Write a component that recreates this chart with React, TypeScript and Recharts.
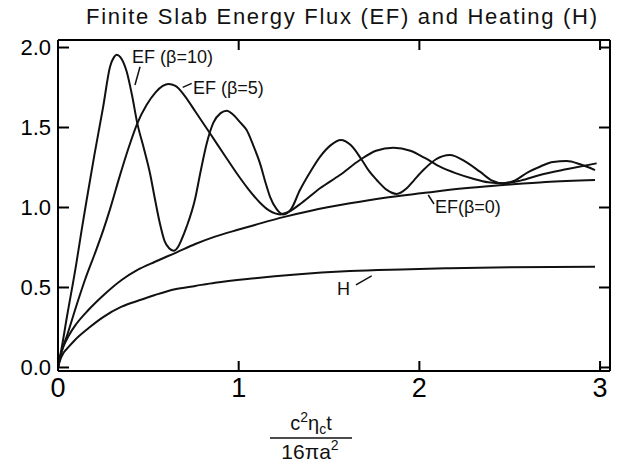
import React from 'react';
import { LineChart, Line, XAxis, YAxis, ReferenceLine, ReferenceDot } from 'recharts';

// EF(beta=10)
const beta10X = [0, 0.02, 0.05, 0.1, 0.131, 0.159, 0.2, 0.25, 0.288, 0.31, 0.325, 0.345, 0.38, 0.41, 0.439, 0.475, 0.509, 0.537, 0.564, 0.59, 0.615, 0.64, 0.665, 0.684, 0.712, 0.758, 0.79, 0.823, 0.86, 0.9, 0.934, 0.97, 1.01, 1.044, 1.08, 1.118, 1.15, 1.173, 1.21, 1.247, 1.29, 1.339, 1.4, 1.45, 1.51, 1.565, 1.62, 1.68, 1.72, 1.764, 1.82, 1.874, 1.93, 1.97, 2.022, 2.09, 2.169, 2.25, 2.335, 2.4, 2.464, 2.53, 2.6, 2.667, 2.74, 2.815, 2.89, 2.972];
const beta10Y = [0, 0.12, 0.32, 0.64, 0.86, 1.05, 1.32, 1.63, 1.88, 1.94, 1.955, 1.94, 1.85, 1.7, 1.526, 1.37, 1.214, 1.05, 0.9, 0.79, 0.745, 0.73, 0.755, 0.8, 0.88, 1.05, 1.23, 1.4, 1.53, 1.59, 1.605, 1.58, 1.53, 1.484, 1.39, 1.276, 1.15, 1.068, 0.99, 0.957, 0.99, 1.109, 1.23, 1.317, 1.39, 1.422, 1.39, 1.3, 1.23, 1.172, 1.11, 1.085, 1.12, 1.17, 1.234, 1.3, 1.328, 1.29, 1.224, 1.17, 1.152, 1.17, 1.22, 1.255, 1.285, 1.29, 1.27, 1.234];

// EF(beta=5)
const beta5X = [0, 0.02, 0.05, 0.1, 0.15, 0.2, 0.251, 0.288, 0.34, 0.39, 0.439, 0.49, 0.54, 0.58, 0.611, 0.65, 0.7, 0.76, 0.841, 0.92, 0.989, 1.05, 1.118, 1.17, 1.229, 1.28, 1.35, 1.45, 1.56, 1.671, 1.76, 1.856, 1.95, 2.03, 2.114, 2.2, 2.298, 2.38, 2.464, 2.56, 2.667, 2.82, 2.981];
const beta5Y = [0, 0.1, 0.2, 0.38, 0.55, 0.7, 0.86, 0.99, 1.19, 1.37, 1.526, 1.64, 1.72, 1.76, 1.772, 1.76, 1.7, 1.6, 1.464, 1.33, 1.214, 1.12, 1.03, 0.98, 0.957, 0.975, 1.03, 1.12, 1.203, 1.297, 1.355, 1.374, 1.355, 1.31, 1.255, 1.215, 1.18, 1.158, 1.151, 1.168, 1.203, 1.24, 1.276];

// EF(beta=0)
const beta0X = [0, 0.01, 0.03, 0.06, 0.1, 0.168, 0.25, 0.352, 0.44, 0.537, 0.657, 0.76, 0.869, 1.0, 1.09, 1.247, 1.4, 1.616, 1.8, 2.02, 2.25, 2.464, 2.7, 2.972];
const beta0Y = [0, 0.06, 0.13, 0.2, 0.27, 0.359, 0.45, 0.547, 0.61, 0.661, 0.72, 0.772, 0.818, 0.862, 0.891, 0.94, 0.98, 1.026, 1.06, 1.09, 1.12, 1.14, 1.16, 1.172];

// Heating H
const heatX = [0, 0.01, 0.03, 0.06, 0.094, 0.168, 0.25, 0.352, 0.45, 0.537, 0.647, 0.76, 0.869, 1.09, 1.3, 1.616, 1.9, 2.169, 2.5, 2.972];
const heatY = [0, 0.04, 0.09, 0.13, 0.172, 0.245, 0.315, 0.38, 0.42, 0.453, 0.489, 0.51, 0.53, 0.558, 0.58, 0.603, 0.613, 0.62, 0.626, 0.63];

const xTicks = [0, 1, 2, 3];
const yTicks = [0, 0.5, 1, 1.5, 2];
const xDomain: [number, number] = [0, 3.055];
const yDomain: [number, number] = [-0.022, 2.047];

const FONT = '"Liberation Sans", Arial, sans-serif';

const toPoints = (xs: number[], ys: number[]) => xs.map((x, i) => ({ x, y: ys[i] }));

const curves = [
  toPoints(beta10X, beta10Y),
  toPoints(beta5X, beta5Y),
  toPoints(beta0X, beta0Y),
  toPoints(heatX, heatY),
];

const annotations = [
  { text: 'EF (β=10)', x: 0.41, y: 1.903, seg: [{ x: 0.454, y: 1.88 }, { x: 0.426, y: 1.766 }] },
  { text: 'EF (β=5)', x: 0.747, y: 1.709, seg: [{ x: 0.69, y: 1.751 }, { x: 0.74, y: 1.776 }] },
  { text: 'EF(β=0)', x: 2.086, y: 0.966, seg: [{ x: 2.049, y: 1.078 }, { x: 2.081, y: 1.022 }] },
  { text: 'H', x: 1.544, y: 0.453, seg: [{ x: 1.649, y: 0.516 }, { x: 1.736, y: 0.572 }] },
];

const emptyTick = () => <g />;

export default function App() {
  return (
    <div style={{ position: 'absolute', left: 0, top: 0, width: 619, height: 465, background: '#fff' }}>
      <LineChart width={619} height={465} margin={{ top: 39, right: 8, bottom: 0, left: 0 }}>
        <XAxis
          xAxisId="b"
          dataKey="x"
          type="number"
          domain={xDomain}
          ticks={xTicks}
          interval={0}
          allowDataOverflow
          height={94}
          tickSize={-10}
          tickMargin={17}
          axisLine={{ stroke: '#000', strokeWidth: 2 }}
          tickLine={{ stroke: '#000', strokeWidth: 2 }}
          tick={{ fontSize: 27, fill: '#000', fontFamily: FONT }}
        />
        <XAxis
          xAxisId="t"
          dataKey="x"
          type="number"
          orientation="top"
          domain={xDomain}
          ticks={xTicks}
          interval={0}
          allowDataOverflow
          height={1}
          tickSize={-10}
          axisLine={{ stroke: '#000', strokeWidth: 2 }}
          tickLine={{ stroke: '#000', strokeWidth: 2 }}
          tick={emptyTick}
        />
        <YAxis
          yAxisId="l"
          type="number"
          domain={yDomain}
          ticks={yTicks}
          interval={0}
          allowDataOverflow
          width={58}
          tickSize={-11}
          tickMargin={18}
          tickFormatter={(v: number) => v.toFixed(1)}
          axisLine={{ stroke: '#000', strokeWidth: 2 }}
          tickLine={{ stroke: '#000', strokeWidth: 2 }}
          tick={{ fontSize: 22, fill: '#000', fontFamily: FONT }}
        />
        <YAxis
          yAxisId="r"
          type="number"
          orientation="right"
          domain={yDomain}
          ticks={yTicks}
          interval={0}
          allowDataOverflow
          width={1}
          tickSize={-11}
          axisLine={{ stroke: '#000', strokeWidth: 2 }}
          tickLine={{ stroke: '#000', strokeWidth: 2 }}
          tick={emptyTick}
        />
        {curves.map((d, i) => (
          <Line
            key={i}
            data={d}
            dataKey="y"
            xAxisId="b"
            yAxisId="l"
            type="monotone"
            stroke="#111"
            strokeWidth={2}
            dot={false}
            activeDot={false}
            isAnimationActive={false}
          />
        ))}
        <Line
          data={curves[3]}
          dataKey="y"
          xAxisId="t"
          yAxisId="r"
          type="monotone"
          stroke="none"
          strokeWidth={0}
          dot={false}
          activeDot={false}
          legendType="none"
          isAnimationActive={false}
        />
        {annotations.map((a, i) => (
          <ReferenceLine
            key={'s' + i}
            xAxisId="b"
            yAxisId="l"
            segment={a.seg}
            stroke="#111"
            strokeWidth={1.5}
          />
        ))}
        {annotations.map((a, i) => (
          <ReferenceDot
            key={'t' + i}
            xAxisId="b"
            yAxisId="l"
            x={a.x}
            y={a.y}
            r={0}
            stroke="none"
            fill="none"
            label={(p: any) => (
              <text
                x={p.viewBox.x}
                y={p.viewBox.y}
                fontSize={18}
                fontFamily={FONT}
                fill="#111"
                textAnchor="start"
              >
                {a.text}
              </text>
            )}
          />
        ))}
      </LineChart>
      <svg
        width={619}
        height={465}
        style={{ position: 'absolute', left: 0, top: 0, pointerEvents: 'none' }}
      >
        <text x={86} y={24} fontSize={22} fontFamily={FONT} fill="#111" textLength={511} lengthAdjust="spacing">
          Finite Slab Energy Flux (EF) and Heating (H)
        </text>
        <text x={311} y={430} fontSize={20} fontFamily={FONT} fill="#111" textAnchor="middle">
          c<tspan dy={-8} fontSize={14}>2</tspan>
          <tspan dy={8}>η</tspan>
          <tspan dy={4} fontSize={14}>c</tspan>
          <tspan dy={-4}>t</tspan>
        </text>
        <line x1={270} x2={352} y1={438} y2={438} stroke="#111" strokeWidth={1.5} />
        <text x={310} y={459} fontSize={21} fontFamily={FONT} fill="#111" textAnchor="middle">
          16πa<tspan dy={-9} fontSize={14}>2</tspan>
        </text>
      </svg>
    </div>
  );
}
